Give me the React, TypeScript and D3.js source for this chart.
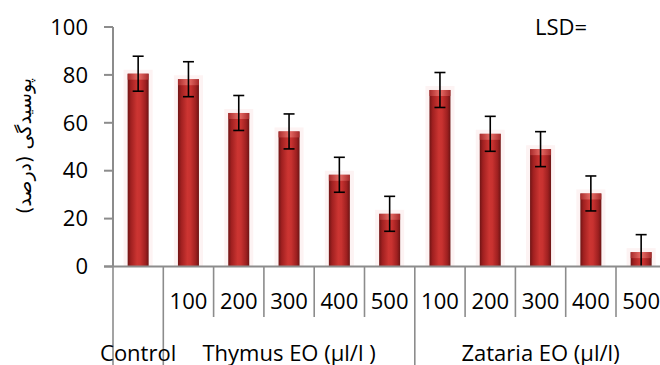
import React from "react";
import * as d3 from "d3";

const categories = ["Control", "T100", "T200", "T300", "T400", "T500", "Z100", "Z200", "Z300", "Z400", "Z500"];
const doseLabels = ["", "100", "200", "300", "400", "500", "100", "200", "300", "400", "500"];
const values = [80.5, 78.2, 64.1, 56.4, 38.3, 22.0, 73.7, 55.4, 49.0, 30.5, 6.0];
const errors = [7.3, 7.3, 7.3, 7.3, 7.3, 7.3, 7.3, 7.3, 7.3, 7.3, 7.3];
const yTicks = [0, 20, 40, 60, 80, 100];
const groups = [
  { label: "Control", from: 0, to: 0 },
  { label: "Thymus EO (µl/l )", from: 1, to: 5 },
  { label: "Zataria EO (µl/l)", from: 6, to: 10 },
];
const yTitle = "پوسیدگی (درصد)";
const lsdText = "LSD=";

const W = 660, H = 365;
const FONT = "'Open Sans', Lato, sans-serif";

export default function App() {
  const x = d3.scaleBand<string>().domain(categories).range([113, 113 + 11 * 50.3]).padding(0);
  const y = d3.scaleLinear().domain([0, 100]).range([266.5, 27]);
  const step = x.step();
  const bw = 21;
  const axisColor = "#8c8c8c";
  const fullLines = new Set([0, 1, 6]);

  return (
    <svg width={W} height={H} style={{ position: "absolute", left: 0, top: 0, background: "#fff" }}>
      <defs>
        <linearGradient id="barGrad" x1="0" x2="1" y1="0" y2="0">
          <stop offset="0" stopColor="#701515" />
          <stop offset="0.15" stopColor="#a02020" />
          <stop offset="0.45" stopColor="#cc3532" />
          <stop offset="0.6" stopColor="#c83230" />
          <stop offset="0.85" stopColor="#9e2020" />
          <stop offset="1" stopColor="#6c1414" />
        </linearGradient>
        <linearGradient id="capGrad" x1="0" x2="1" y1="0" y2="0">
          <stop offset="0" stopColor="#b03030" />
          <stop offset="0.5" stopColor="#ef7b74" />
          <stop offset="1" stopColor="#b03030" />
        </linearGradient>
      </defs>

      {/* glow */}
      {categories.map((c, i) => {
        const cx = (x(c) as number) + step / 2;
        return (
          <rect key={"g" + c} x={cx - bw / 2 - 4} y={y(values[i]) - 4} width={bw + 8}
            height={y(0) - y(values[i]) + 4} fill="#fbe0e0" opacity={0.4} />
        );
      })}

      {/* bars */}
      {categories.map((c, i) => {
        const cx = (x(c) as number) + step / 2;
        const top = y(values[i]);
        return (
          <g key={"b" + c}>
            <rect x={cx - bw / 2} y={top} width={bw} height={y(0) - top} fill="url(#barGrad)" />
            <rect x={cx - bw / 2} y={top} width={bw} height={Math.min(6, y(0) - top)} fill="url(#capGrad)" opacity={0.8} />
          </g>
        );
      })}

      {/* error bars */}
      {categories.map((c, i) => {
        const cx = (x(c) as number) + step / 2;
        const hi = y(values[i] + errors[i]);
        const lo = y(Math.max(0, values[i] - errors[i]));
        return (
          <g key={"e" + c} stroke="#000" strokeWidth={1.6}>
            <line x1={cx} x2={cx} y1={hi} y2={lo} />
            <line x1={cx - 5.5} x2={cx + 5.5} y1={hi} y2={hi} />
            {values[i] - errors[i] > 0 && <line x1={cx - 5.5} x2={cx + 5.5} y1={lo} y2={lo} />}
          </g>
        );
      })}

      {/* y axis */}
      <line x1={113} x2={113} y1={y(100)} y2={y(0)} stroke={axisColor} strokeWidth={2} />
      {yTicks.map((t) => (
        <g key={"yt" + t}>
          <line x1={104} x2={113} y1={y(t)} y2={y(t)} stroke={axisColor} strokeWidth={2} />
          <text x={88} y={y(t)} dy="0.35em" textAnchor="end" fontFamily={FONT} fontSize={22} fill="#000">{t}</text>
        </g>
      ))}

      {/* x axis */}
      <line x1={104} x2={W} y1={y(0)} y2={y(0)} stroke={axisColor} strokeWidth={2} />
      {categories.map((c, i) => {
        const x0 = x(c) as number;
        return (
          <line key={"sep" + c} x1={x0} x2={x0} y1={y(0)} y2={fullLines.has(i) ? H : 317}
            stroke={axisColor} strokeWidth={1.6} />
        );
      })}
      {categories.map((c, i) =>
        doseLabels[i] ? (
          <text key={"dl" + c} x={(x(c) as number) + step / 2} y={309} textAnchor="middle"
            fontFamily={FONT} fontSize={22} fill="#000">{doseLabels[i]}</text>
        ) : null
      )}
      {groups.map((g) => {
        const x0 = x(categories[g.from]) as number;
        const x1 = (x(categories[g.to]) as number) + step;
        return (
          <text key={"gl" + g.label} x={(x0 + x1) / 2} y={361} textAnchor="middle"
            fontFamily={FONT} fontSize={22} fill="#000">{g.label}</text>
        );
      })}

      {/* LSD */}
      <text x={535} y={35} fontFamily={FONT} fontSize={22} fill="#000">{lsdText}</text>

      {/* y title */}
      <text transform="translate(24,146) rotate(-90)" textAnchor="middle" dominantBaseline="central"
        fontFamily="'DejaVu Sans', sans-serif" fontSize={19} fill="#000" direction="rtl">{yTitle}</text>
    </svg>
  );
}
